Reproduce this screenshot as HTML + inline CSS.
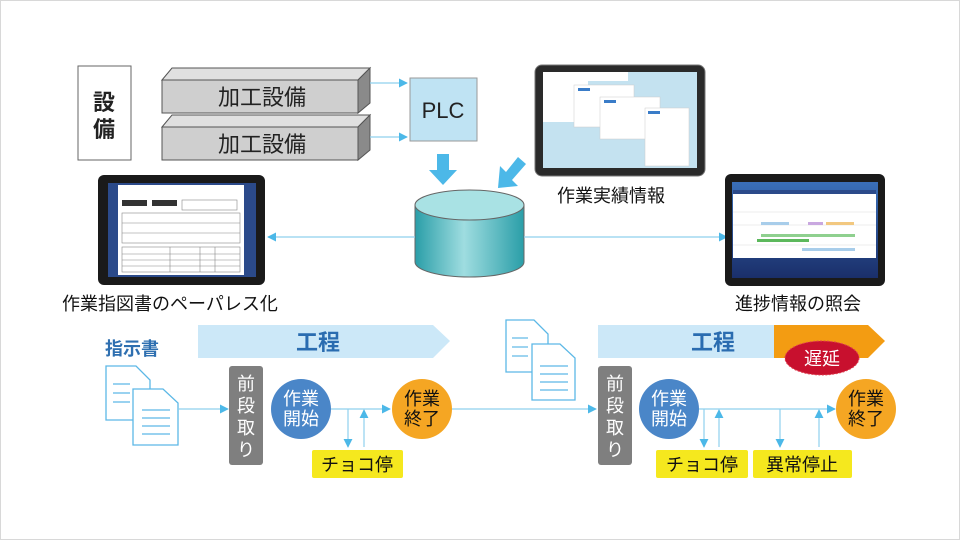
<!DOCTYPE html>
<html><head><meta charset="utf-8"><style>
html,body{margin:0;padding:0;background:#fff}
svg{display:block}
text{font-family:"Liberation Sans","Noto Sans CJK JP",sans-serif}
</style></head><body>
<svg width="960" height="540" viewBox="0 0 960 540" xmlns="http://www.w3.org/2000/svg">
<defs>
<marker id="a" viewBox="0 0 10 10" refX="9" refY="5" markerWidth="9" markerHeight="9" markerUnits="userSpaceOnUse" orient="auto"><path d="M0,0L10,5L0,10z" fill="#4cb8e8"/></marker>
<linearGradient id="cyl" x1="0" x2="1"><stop offset="0" stop-color="#2a9ea8"/><stop offset="0.45" stop-color="#9fdde0"/><stop offset="1" stop-color="#2a9ea8"/></linearGradient>
<linearGradient id="scr" x1="0" y1="0" x2="0" y2="1"><stop offset="0" stop-color="#3a6fb8"/><stop offset="1" stop-color="#1a2f6a"/></linearGradient>
</defs>
<rect x="0.5" y="0.5" width="959" height="539" fill="#fff" stroke="#d8d8d8"/>

<rect x="78" y="66" width="53" height="94" fill="#fff" stroke="#666"/>
<text x="104" y="110" font-size="22" font-weight="bold" text-anchor="middle" fill="#222">設</text>
<text x="104" y="137" font-size="22" font-weight="bold" text-anchor="middle" fill="#222">備</text>

<g stroke="#555" stroke-width="1">
<polygon points="162,80 172,68 370,68 358,80" fill="#e0e0e0"/>
<polygon points="358,80 370,68 370,103 358,113" fill="#8a8a8a"/>
<rect x="162" y="80" width="196" height="33" fill="#cfcfcf"/>
<polygon points="162,127 172,115 370,115 358,127" fill="#e0e0e0"/>
<polygon points="358,127 370,115 370,150 358,160" fill="#8a8a8a"/>
<rect x="162" y="127" width="196" height="33" fill="#cfcfcf"/>
</g>
<text x="262" y="105" font-size="22" text-anchor="middle" fill="#222">加工設備</text>
<text x="262" y="152" font-size="22" text-anchor="middle" fill="#222">加工設備</text>

<line x1="370" y1="83" x2="407" y2="83" stroke="#8fd0ee" stroke-width="1.2" marker-end="url(#a)"/>
<line x1="370" y1="137" x2="407" y2="137" stroke="#8fd0ee" stroke-width="1.2" marker-end="url(#a)"/>

<rect x="410" y="78" width="67" height="63" fill="#bfe3f3" stroke="#999"/>
<text x="443" y="118" font-size="22" text-anchor="middle" fill="#222">PLC</text>

<polygon points="437,154 449,154 449,170 457,170 443,185 429,170 437,170" fill="#4cb8e8"/>
<polygon points="526,164 518,157 506,172 500,166 498,188 518,186 512,180" fill="#4cb8e8"/>

<path d="M415,205 L415,262 A54.5,15 0 0 0 524,262 L524,205 Z" fill="url(#cyl)" stroke="#666"/>
<ellipse cx="469.5" cy="205" rx="54.5" ry="15" fill="#a9e2e4" stroke="#666"/>

<line x1="415" y1="237" x2="268" y2="237" stroke="#8fd0ee" stroke-width="1.2" marker-end="url(#a)"/>
<line x1="524" y1="237" x2="727" y2="237" stroke="#8fd0ee" stroke-width="1.2" marker-end="url(#a)"/>

<!-- left tablet -->
<rect x="98" y="175" width="167" height="110" rx="6" fill="#1a1a1a"/>
<rect x="108" y="183" width="148" height="94" fill="#2b4a8a"/>
<rect x="118" y="185" width="126" height="90" fill="#fff"/>
<g stroke="#888" stroke-width="0.6" fill="none">
<rect x="122" y="213" width="118" height="30"/><line x1="122" y1="223" x2="240" y2="223"/><line x1="122" y1="233" x2="240" y2="233"/>
<rect x="122" y="247" width="118" height="25"/><line x1="122" y1="254" x2="240" y2="254"/><line x1="122" y1="260" x2="240" y2="260"/><line x1="122" y1="266" x2="240" y2="266"/>
<line x1="170" y1="247" x2="170" y2="272"/><line x1="200" y1="247" x2="200" y2="272"/><line x1="215" y1="247" x2="215" y2="272"/>
<rect x="182" y="200" width="55" height="10"/>
</g>
<rect x="122" y="200" width="25" height="6" fill="#333"/><rect x="152" y="200" width="25" height="6" fill="#333"/>
<text x="62" y="310" font-size="18" fill="#111">作業指図書のペーパレス化</text>

<!-- top tablet -->
<rect x="535" y="65" width="170" height="111" rx="7" fill="#2a2a2a" stroke="#777"/>
<rect x="543" y="72" width="154" height="96" fill="#c4e2f0"/>
<rect x="543" y="72" width="45" height="50" fill="#fff"/>
<rect x="588" y="72" width="40" height="9" fill="#fff"/>
<rect x="574" y="85" width="60" height="42" fill="#fff" stroke="#ccc" stroke-width="0.5"/>
<rect x="600" y="97" width="60" height="42" fill="#fff" stroke="#ccc" stroke-width="0.5"/>
<rect x="645" y="108" width="44" height="58" fill="#fff" stroke="#ccc" stroke-width="0.5"/>
<rect x="578" y="88" width="12" height="3" fill="#3a7cc8"/><rect x="604" y="100" width="12" height="3" fill="#3a7cc8"/><rect x="648" y="111" width="12" height="3" fill="#3a7cc8"/>
<text x="557" y="202" font-size="18" fill="#111">作業実績情報</text>

<!-- right tablet -->
<rect x="725" y="174" width="160" height="112" rx="6" fill="#1a1a1a"/>
<rect x="732" y="182" width="146" height="96" fill="url(#scr)"/>
<rect x="733" y="190" width="143" height="68" fill="#fff"/>
<rect x="733" y="190" width="143" height="4" fill="#2b4a8a"/>
<g stroke="#ddd" stroke-width="0.5"><line x1="733" y1="212" x2="876" y2="212"/><line x1="733" y1="225" x2="876" y2="225"/><line x1="733" y1="245" x2="876" y2="245"/></g>
<rect x="761" y="222" width="28" height="3" fill="#a8cdea"/><rect x="808" y="222" width="15" height="3" fill="#c9a8e0"/><rect x="826" y="222" width="28" height="3" fill="#f2c880"/>
<rect x="761" y="234" width="94" height="3" fill="#8fd08f"/><rect x="757" y="239" width="52" height="3" fill="#5cb85c"/>
<rect x="802" y="248" width="53" height="3" fill="#a8cdea"/>
<text x="735" y="310" font-size="18" fill="#111">進捗情報の照会</text>

<!-- LEFT PROCESS -->
<text x="105" y="355" font-size="18" font-weight="bold" fill="#2e6fb0">指示書</text>
<polygon points="198,325 433,325 450,341 433,358 198,358" fill="#cce8f8"/>
<text x="318" y="350" font-size="22" font-weight="bold" text-anchor="middle" fill="#2a6cb0">工程</text>

<g fill="#fff" stroke="#5cb8e6" stroke-width="1.3">
<path d="M106,366 L136,366 L150,380 L150,420 L106,420 Z"/>
<path d="M133,389 L163,389 L178,403 L178,445 L133,445 Z"/>
</g>
<g stroke="#5cb8e6" stroke-width="1.2">
<line x1="113" y1="384" x2="130" y2="384"/><line x1="113" y1="393" x2="130" y2="393"/><line x1="113" y1="402" x2="130" y2="402"/>
<line x1="142" y1="410" x2="170" y2="410"/><line x1="142" y1="418" x2="170" y2="418"/><line x1="142" y1="426" x2="170" y2="426"/><line x1="142" y1="434" x2="170" y2="434"/>
</g>
<line x1="178" y1="409" x2="228" y2="409" stroke="#8fd0ee" stroke-width="1.2" marker-end="url(#a)"/>
<rect x="229" y="366" width="34" height="99" rx="3" fill="#7f7f7f"/>
<text font-size="18" fill="#fff" text-anchor="middle"><tspan x="246" y="390">前</tspan><tspan x="246" y="412">段</tspan><tspan x="246" y="434">取</tspan><tspan x="246" y="456">り</tspan></text>
<circle cx="301" cy="409" r="30" fill="#4a86c8"/>
<text font-size="18" fill="#fff" text-anchor="middle"><tspan x="301" y="405">作業</tspan><tspan x="301" y="425">開始</tspan></text>
<line x1="331" y1="409" x2="390" y2="409" stroke="#8fd0ee" stroke-width="1.2" marker-end="url(#a)"/>
<line x1="348" y1="409" x2="348" y2="447" stroke="#8fd0ee" stroke-width="1.2" marker-end="url(#a)"/>
<line x1="364" y1="447" x2="364" y2="410" stroke="#8fd0ee" stroke-width="1.2" marker-end="url(#a)"/>
<circle cx="422" cy="409" r="30" fill="#f5a623"/>
<text font-size="18" fill="#111" text-anchor="middle"><tspan x="422" y="405">作業</tspan><tspan x="422" y="425">終了</tspan></text>
<rect x="312" y="450" width="91" height="28" rx="2" fill="#f5e81e"/>
<text x="357" y="471" font-size="18" text-anchor="middle" fill="#111">チョコ停</text>
<line x1="452" y1="409" x2="596" y2="409" stroke="#8fd0ee" stroke-width="1.2" marker-end="url(#a)"/>

<!-- RIGHT PROCESS -->
<g fill="#fff" stroke="#5cb8e6" stroke-width="1.3">
<path d="M506,320 L534,320 L548,334 L548,372 L506,372 Z"/>
<path d="M532,344 L560,344 L575,358 L575,400 L532,400 Z"/>
</g>
<g stroke="#5cb8e6" stroke-width="1.2">
<line x1="512" y1="338" x2="528" y2="338"/><line x1="512" y1="347" x2="528" y2="347"/><line x1="512" y1="356" x2="528" y2="356"/>
<line x1="540" y1="366" x2="568" y2="366"/><line x1="540" y1="374" x2="568" y2="374"/><line x1="540" y1="382" x2="568" y2="382"/><line x1="540" y1="390" x2="568" y2="390"/>
</g>
<rect x="598" y="325" width="176" height="33" fill="#cce8f8"/>
<polygon points="774,325 868,325 885,341 868,358 774,358" fill="#f39c12"/>
<text x="713" y="350" font-size="22" font-weight="bold" text-anchor="middle" fill="#2a6cb0">工程</text>
<ellipse cx="822" cy="358" rx="37" ry="17" fill="#c8102e" stroke="#e04050" stroke-dasharray="2 1.5"/>
<text x="822" y="365" font-size="18" text-anchor="middle" fill="#fff">遅延</text>

<rect x="598" y="366" width="34" height="99" rx="3" fill="#7f7f7f"/>
<text font-size="18" fill="#fff" text-anchor="middle"><tspan x="615" y="390">前</tspan><tspan x="615" y="412">段</tspan><tspan x="615" y="434">取</tspan><tspan x="615" y="456">り</tspan></text>
<circle cx="669" cy="409" r="30" fill="#4a86c8"/>
<text font-size="18" fill="#fff" text-anchor="middle"><tspan x="669" y="405">作業</tspan><tspan x="669" y="425">開始</tspan></text>
<line x1="699" y1="409" x2="835" y2="409" stroke="#8fd0ee" stroke-width="1.2" marker-end="url(#a)"/>
<line x1="704" y1="409" x2="704" y2="447" stroke="#8fd0ee" stroke-width="1.2" marker-end="url(#a)"/>
<line x1="719" y1="447" x2="719" y2="410" stroke="#8fd0ee" stroke-width="1.2" marker-end="url(#a)"/>
<line x1="780" y1="409" x2="780" y2="447" stroke="#8fd0ee" stroke-width="1.2" marker-end="url(#a)"/>
<line x1="819" y1="447" x2="819" y2="410" stroke="#8fd0ee" stroke-width="1.2" marker-end="url(#a)"/>
<circle cx="866" cy="409" r="30" fill="#f5a623"/>
<text font-size="18" fill="#111" text-anchor="middle"><tspan x="866" y="405">作業</tspan><tspan x="866" y="425">終了</tspan></text>
<rect x="656" y="450" width="92" height="28" rx="2" fill="#f5e81e"/>
<text x="702" y="471" font-size="18" text-anchor="middle" fill="#111">チョコ停</text>
<rect x="753" y="450" width="99" height="28" rx="2" fill="#f5e81e"/>
<text x="802" y="471" font-size="18" text-anchor="middle" fill="#111">異常停止</text>
</svg>
</body></html>
